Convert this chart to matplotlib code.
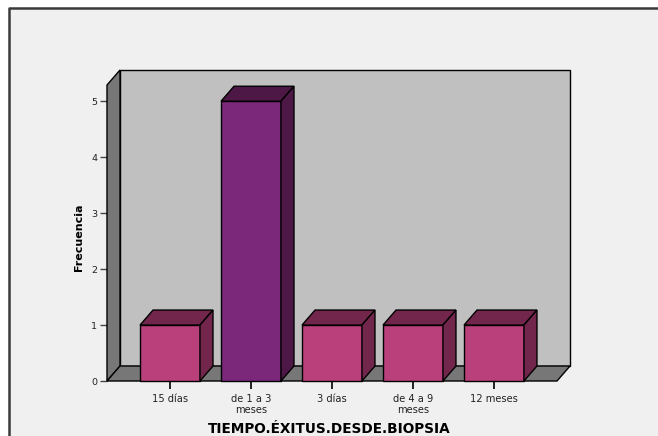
import matplotlib.pyplot as plt
import matplotlib.patches as patches

# datos
categorias = ['15 días', 'de 1 a 3\nmeses', '3 días', 'de 4 a 9\nmeses', '12 meses']
frecuencias = [1, 5, 1, 1, 1]
y_ticks = [0, 1, 2, 3, 4, 5]

W, H = 658, 436
fig = plt.figure(figsize=(W / 100, H / 100), dpi=100)
fig.patch.set_facecolor('white')

# fondo gris claro con borde
fig.patches.append(patches.Rectangle((9 / W, 0), 1, 1 - 8 / H, transform=fig.transFigure,
                                     facecolor='#f0f0f0', edgecolor='none', zorder=-5))
fig.lines.append(plt.Line2D([9 / W, 9 / W, 1], [0, 1 - 8 / H, 1 - 8 / H],
                            transform=fig.transFigure, color='#3a3a3a', lw=1.8, zorder=-4))

# ejes (plano frontal)
x0, x1 = 107, 557
yb, yt = 381, 85
ax = fig.add_axes([x0 / W, (H - yb) / H, (x1 - x0) / W, (yb - yt) / H])
ax.set_facecolor('none')
xmin, xmax = -0.778, 4.778
ymax = 5.29
ax.set_xlim(xmin, xmax)
ax.set_ylim(0, ymax)
for s in ax.spines.values():
    s.set_visible(False)

# profundidad 3D en unidades de datos
dx = 13 / 81
dy = 15 / 56
bw = 0.74

edge = dict(edgecolor='black', linewidth=1.0, clip_on=False)

# pared trasera
ax.add_patch(patches.Rectangle((xmin + dx, dy), xmax - xmin, ymax, facecolor='#c0c0c0',
                               zorder=1, **edge))
# pared izquierda
ax.add_patch(patches.Polygon([(xmin, 0), (xmin, ymax), (xmin + dx, ymax + dy), (xmin + dx, dy)],
                             facecolor='#777777', zorder=2, **edge))
# suelo
ax.add_patch(patches.Polygon([(xmin, 0), (xmax, 0), (xmax + dx, dy), (xmin + dx, dy)],
                             facecolor='#777777', zorder=2, **edge))

# barras 3D
for i, v in enumerate(frecuencias):
    if v == max(frecuencias):
        front, top, side = '#7b287a', '#4d1846', '#4d1846'
    else:
        front, top, side = '#b9407b', '#72264c', '#72264c'
    l, r = i - bw / 2, i + bw / 2
    ax.add_patch(patches.Rectangle((l, 0), bw, v, facecolor=front, zorder=3, **edge))
    ax.add_patch(patches.Polygon([(l, v), (r, v), (r + dx, v + dy), (l + dx, v + dy)],
                                 facecolor=top, zorder=3, **edge))
    ax.add_patch(patches.Polygon([(r, 0), (r + dx, dy), (r + dx, v + dy), (r, v)],
                                 facecolor=side, zorder=3, **edge))

# ticks
ax.set_xticks(range(len(categorias)))
ax.set_xticklabels(categorias, fontsize=7.1, color='#222222', linespacing=1.15)
ax.set_yticks(y_ticks)
ax.set_yticklabels([str(t) for t in y_ticks], fontsize=6.8, color='#222222')
ax.tick_params(axis='x', length=6, width=1.2, color='black', pad=3, direction='out')
ax.tick_params(axis='y', length=5, width=1.0, color='#444444', pad=2, direction='out')

ax.set_ylabel('Frecuencia', fontsize=8, fontweight='bold', labelpad=6)
ax.set_xlabel('TIEMPO.ÉXITUS.DESDE.BIOPSIA', fontsize=9.8, fontweight='bold', labelpad=6)
ax.xaxis.set_label_coords((329 - x0) / (x1 - x0), -(429 - yb) / (yb - yt))
ax.yaxis.set_label_coords(-(x0 - 79) / (x1 - x0), (yb - 237) / (yb - yt))
ax.xaxis.label.set_va('center')
ax.yaxis.label.set_va('center')

plt.savefig('out.png', dpi=100, facecolor='white')
